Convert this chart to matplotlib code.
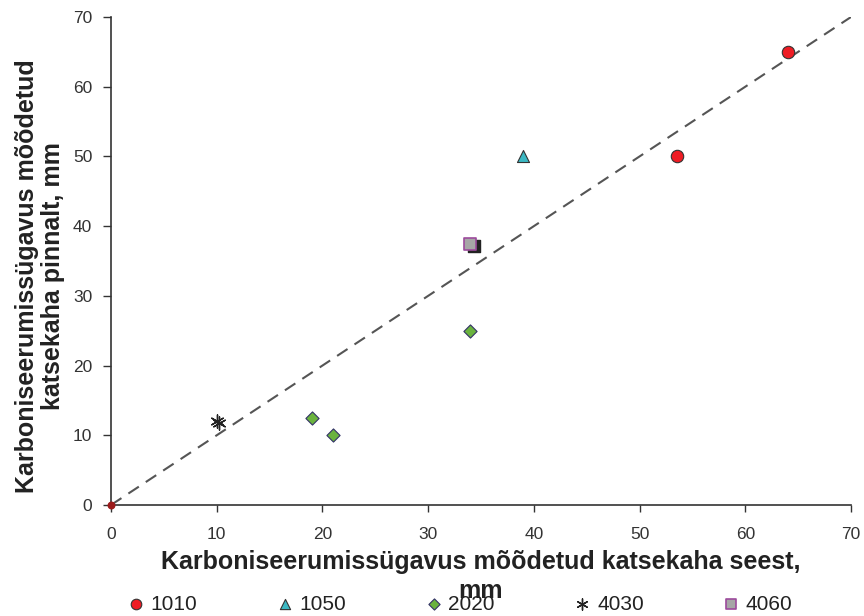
import matplotlib.pyplot as plt

plt.rcParams['font.family'] = ['Liberation Sans', 'DejaVu Sans']

# mõõtmistulemused seeriate kaupa (seest, pinnalt)
x_1010 = [64, 53.5]
y_1010 = [65, 50]
x_1050 = [39]
y_1050 = [50]
x_2020 = [34, 19, 21]
y_2020 = [25, 12.5, 10]
x_4030 = [10, 10.2]
y_4030 = [12, 11.7]
x_4060 = [34]
y_4060 = [37.5]
x_4060_b = [34.3]
y_4060_b = [37.2]
x_zero = [0]
y_zero = [0]

ticks = [0, 10, 20, 30, 40, 50, 60, 70]

fig = plt.figure(figsize=(8.64, 6.16), dpi=100)
ax = fig.add_axes([111/864, 111/616, 740/864, 488/616])

ax.plot([0, 70], [0, 70], ls=(0, (6, 4)), color='#555555', lw=1.5, zorder=1)

ax.scatter(x_zero, y_zero, s=22, color='#9b1b1b', zorder=3, clip_on=False)
ax.scatter(x_1010, y_1010, s=80, marker='o', facecolor='#ee1c24', edgecolor='#333333', lw=0.8, label='1010', zorder=3)
ax.scatter(x_1050, y_1050, s=75, marker='^', facecolor='#3bb8c3', edgecolor='#333333', lw=0.8, label='1050', zorder=3)
ax.scatter(x_2020, y_2020, s=45, marker='D', facecolor='#6ab33e', edgecolor='#333366', lw=0.8, label='2020', zorder=3)
ax.scatter(x_4030, y_4030, s=90, marker=(6, 2, 0), color='#222222', lw=1.0, label='4030', zorder=3)
ax.scatter(x_4060_b, y_4060_b, s=85, marker='s', facecolor='#222222', edgecolor='#222222', zorder=3)
ax.scatter(x_4060, y_4060, s=85, marker='s', facecolor='#a6a6a6', edgecolor='#9c4a9c', lw=1.2, label='4060', zorder=4)

ax.set_xlim(0, 70)
ax.set_ylim(0, 70)
ax.set_xticks(ticks)
ax.set_yticks(ticks)
ax.tick_params(labelsize=12.5, direction='out', width=1, colors='#333333')
ax.tick_params(axis='x', length=5, pad=10.5)
ax.tick_params(axis='y', length=6, pad=7.5)
ax.spines['top'].set_visible(False)
ax.spines['right'].set_visible(False)
for s in ('left', 'bottom'):
    ax.spines[s].set_linewidth(1.2)
    ax.spines[s].set_color('#333333')

# x-telje pealkiri kahel real: teine rida ("mm") eraldi tekstina
ax.set_xlabel('Karboniseerumissügavus mõõdetud katsekaha seest,',
              fontsize=18, fontweight='bold', labelpad=6, color='#222222')
ax.text(0.5, -0.177, 'mm', transform=ax.transAxes, ha='center', va='center',
        fontsize=18, fontweight='bold', color='#222222')
ax.set_ylabel('Karboniseerumissügavus mõõdetud\nkatsekaha pinnalt, mm',
              fontsize=18, fontweight='bold', linespacing=1.12,
              color='#222222')
ax.yaxis.set_label_coords(-0.062, 0.47)

fig.legend(loc='lower left', bbox_to_anchor=(107/864, -0.027), ncol=5, frameon=False,
           fontsize=15, handletextpad=0.2, columnspacing=3.7, markerscale=0.85,
           handlelength=1.0, labelcolor='#222222')

fig.savefig('out.png', dpi=100)
